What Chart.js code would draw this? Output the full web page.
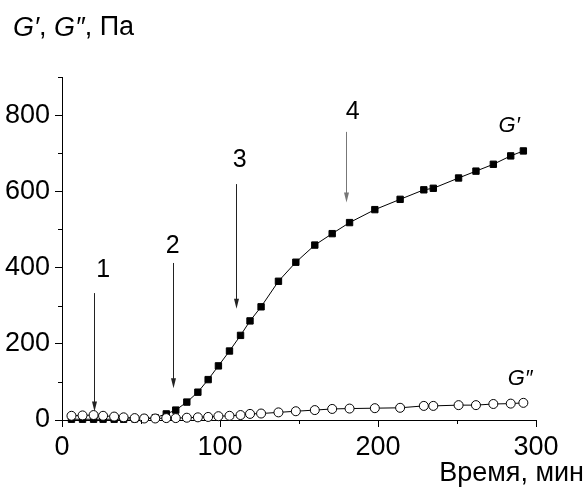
<!DOCTYPE html>
<html>
<head>
<meta charset="utf-8">
<script src="https://cdn.jsdelivr.net/npm/chart.js@4"></script>
<style>
  html, body { margin: 0; padding: 0; background: #fff; }
  #wrap { width: 587px; height: 488px; }
</style>
</head>
<body>
<div id="wrap"><canvas id="rheo_chart" width="587" height="488"></canvas></div>
<script>
// data
const times = [6, 13, 20, 26, 33, 39, 46, 52, 59, 66, 72, 79, 86, 92.5, 99, 106, 113, 119, 126,
  137, 148, 160, 171, 182, 198, 214, 229, 235, 251, 262, 273, 284, 292];
const gStorage = [2, 2, 2, 2, 2, 2, 3, 4, 6, 16, 26, 47, 73, 106, 142, 181, 222, 260, 297,
  364, 414, 459, 489, 518, 552, 579, 604, 608, 635, 653, 671, 693, 706];
const gLoss = [11, 12, 13, 11, 9, 7, 5, 4, 4, 5, 5, 6, 7, 8, 10, 11, 13, 16, 17,
  20, 23, 26, 29, 30, 31, 32, 37, 37, 39, 39, 42, 43, 45];

// arrows 1..4 (time, from value, to value) and their number labels
const arrowNames = ['1', '2', '3', '4'];
const arrowTime = [20, 70, 110, 180];
const arrowFrom = [333, 412, 619, 756];
const arrowTo = [22, 83, 292, 571];
const arrowNameTime = [26, 70, 112.5, 184];
const arrowNameValue = [394, 456, 682, 807];

const FONT = "'Liberation Sans', Arial, sans-serif";

function toPoints(xs, ys) {
  return xs.map((x, i) => ({ x: x, y: ys[i] }));
}

// minor ticks, arrows and texts
const extras = {
  id: 'extras',
  afterDraw(chart) {
    const ctx = chart.ctx;
    const xs = chart.scales.x;
    const ys = chart.scales.y;
    const area = chart.chartArea;
    ctx.save();
    ctx.strokeStyle = '#000';
    ctx.lineWidth = 1;

    // minor ticks
    xs.ticks.forEach(t => {
      if (t.value % 100 !== 0) {
        const px = Math.round(xs.getPixelForValue(t.value)) + 0.5;
        ctx.beginPath();
        ctx.moveTo(px, area.bottom);
        ctx.lineTo(px, area.bottom + 4);
        ctx.stroke();
      }
    });
    ys.ticks.forEach(t => {
      if (t.value % 200 !== 0) {
        const py = Math.round(ys.getPixelForValue(t.value)) + 0.5;
        ctx.beginPath();
        ctx.moveTo(area.left - 4, py);
        ctx.lineTo(area.left, py);
        ctx.stroke();
      }
    });

    // arrows
    for (let i = 0; i < arrowNames.length; i++) {
      const colour = i === 3 ? '#777' : '#222';
      const px = Math.round(xs.getPixelForValue(arrowTime[i])) + 0.5;
      const y1 = ys.getPixelForValue(arrowFrom[i]);
      const y2 = ys.getPixelForValue(arrowTo[i]);
      ctx.strokeStyle = colour;
      ctx.fillStyle = colour;
      ctx.beginPath();
      ctx.moveTo(px, y1);
      ctx.lineTo(px, y2 - 8);
      ctx.stroke();
      ctx.beginPath();
      ctx.moveTo(px - 2.5, y2 - 10);
      ctx.lineTo(px + 2.5, y2 - 10);
      ctx.lineTo(px, y2);
      ctx.closePath();
      ctx.fill();

      ctx.fillStyle = '#000';
      ctx.font = '25px ' + FONT;
      ctx.textAlign = 'center';
      ctx.textBaseline = 'middle';
      ctx.fillText(arrowNames[i], xs.getPixelForValue(arrowNameTime[i]), ys.getPixelForValue(arrowNameValue[i]));
    }

    // curve names
    ctx.fillStyle = '#000';
    ctx.font = 'italic 22px ' + FONT;
    ctx.textAlign = 'center';
    ctx.textBaseline = 'middle';
    ctx.fillText('G\u2032', xs.getPixelForValue(283), ys.getPixelForValue(772));
    ctx.fillText('G\u2033', xs.getPixelForValue(290), ys.getPixelForValue(108));

    // axis titles
    ctx.textAlign = 'left';
    let x = 13;
    const parts = [['G\u2032', true], [', ', false], ['G\u2033', true], [', Па', false]];
    parts.forEach(p => {
      ctx.font = (p[1] ? 'italic ' : '') + '27px ' + FONT;
      ctx.fillText(p[0], x, 28);
      x += ctx.measureText(p[0]).width;
    });
    ctx.font = '27px ' + FONT;
    ctx.textAlign = 'right';
    ctx.fillText('Время, мин', 584, 474);
    ctx.restore();
  }
};

const ctx = document.getElementById('rheo_chart').getContext('2d');
const rheoChart = new Chart(ctx, {
  type: 'scatter',
  data: {
    datasets: [{
      label: 'G\u2033',
      data: toPoints(times, gLoss),
      showLine: true,
      borderColor: '#000',
      borderWidth: 1,
      pointStyle: 'circle',
      pointRadius: 4.5,
      pointBackgroundColor: '#fff',
      pointBorderColor: '#000',
      pointBorderWidth: 1,
      clip: false
    }, {
      label: 'G\u2032',
      data: toPoints(times, gStorage),
      showLine: true,
      borderColor: '#000',
      borderWidth: 1,
      pointStyle: 'rect',
      pointRadius: 4.5,
      pointBackgroundColor: '#000',
      pointBorderColor: '#000',
      pointBorderWidth: 1,
      clip: false
    }]
  },
  options: {
    responsive: false,
    animation: false,
    layout: { padding: { top: 77, right: 51, left: 0, bottom: 0 } },
    plugins: {
      legend: { display: false },
      tooltip: { enabled: false }
    },
    scales: {
      x: {
        type: 'linear',
        min: 0,
        max: 300,
        afterFit: scale => { scale.height = 68; },
        border: { display: true, color: '#000', width: 1 },
        grid: {
          drawOnChartArea: false,
          drawTicks: true,
          tickLength: 7,
          tickColor: c => (c.tick && c.tick.value % 100 === 0) ? '#000' : 'rgba(0,0,0,0)'
        },
        ticks: {
          stepSize: 50,
          padding: 4,
          color: '#000',
          font: { family: FONT, size: 27 },
          maxRotation: 0,
          autoSkip: false,
          callback: v => v % 100 === 0 ? v : ''
        }
      },
      y: {
        type: 'linear',
        min: 0,
        max: 900,
        afterFit: scale => { scale.width = 62; },
        border: { display: true, color: '#000', width: 1 },
        grid: {
          drawOnChartArea: false,
          drawTicks: true,
          tickLength: 7,
          tickColor: c => (c.tick && c.tick.value % 200 === 0) ? '#000' : 'rgba(0,0,0,0)'
        },
        ticks: {
          stepSize: 100,
          padding: 5,
          color: '#000',
          font: { family: FONT, size: 27 },
          autoSkip: false,
          callback: v => v % 200 === 0 ? v : ''
        }
      }
    }
  },
  plugins: [extras]
});
</script>
</body>
</html>
